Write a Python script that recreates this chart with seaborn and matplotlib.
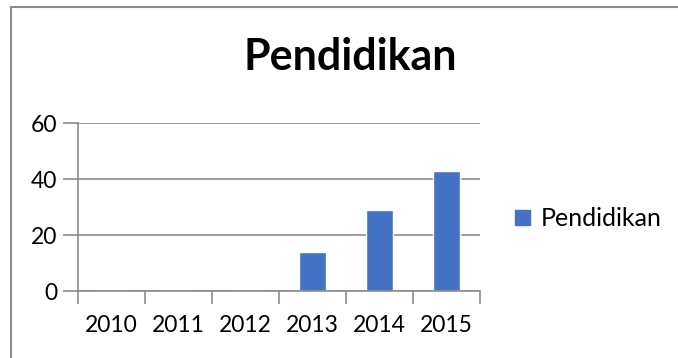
import pandas as pd
import matplotlib.pyplot as plt
import seaborn as sns
from matplotlib.lines import Line2D

# data
years = ["2010", "2011", "2012", "2013", "2014", "2015"]
values = [0, 0, 0, 14, 29, 43]
series = "Pendidikan"

df = pd.DataFrame({"tahun": years, "nilai": values, "seri": series})

sns.set_style("white")
plt.rcParams['font.family'] = ['Lato', 'DejaVu Sans']
plt.rcParams['text.color'] = 'black'
plt.rcParams['xtick.color'] = '#8c8c8c'
plt.rcParams['ytick.color'] = '#8c8c8c'
plt.rcParams['xtick.labelcolor'] = 'black'
plt.rcParams['ytick.labelcolor'] = 'black'

fig = plt.figure(figsize=(6.78, 3.58), dpi=100)
ax = fig.add_axes([0.115, 0.187, 0.593, 0.469])

sns.barplot(data=df, x="tahun", y="nilai", hue="seri", palette=["#4472C4"],
            width=0.4, ax=ax, legend=False, saturation=1)

ax.set_ylim(0, 60)
ax.set_yticks([0, 20, 40, 60])
ax.set_xlim(-0.5, 5.5)
ax.set_xlabel("")
ax.set_ylabel("")
ax.yaxis.grid(True, color="#8c8c8c", linewidth=1.2)
ax.set_axisbelow(True)

for s in ["top", "right"]:
    ax.spines[s].set_visible(False)
for s in ["left", "bottom"]:
    ax.spines[s].set_color("#8c8c8c")
    ax.spines[s].set_linewidth(1.2)

ax.tick_params(axis="y", left=True, length=11, width=1.2, labelsize=16.5, pad=4)
ax.tick_params(axis="x", which="major", bottom=False, length=0, labelsize=16.5, pad=17)
ax.set_xticks([i - 0.5 for i in range(7)], minor=True)
ax.tick_params(axis="x", which="minor", bottom=True, length=9, width=1.2)

handle = plt.Rectangle((0, 0), 1, 1, color="#4472C4")
ax.legend([handle], [series], loc="center left", bbox_to_anchor=(1.03, 0.43),
          frameon=False, fontsize=18, handlelength=0.6, handleheight=0.6,
          handletextpad=0.45)

fig.text(0.516, 0.84, "Pendidikan", ha="center", va="center",
         fontsize=31, fontweight="bold")

# chart border (only top and left visible in the reference)
fig.add_artist(Line2D([0.016, 1.0], [0.98, 0.98], color="#8c8c8c", lw=1.5))
fig.add_artist(Line2D([0.016, 0.016], [0.0, 0.98], color="#8c8c8c", lw=1.5))

fig.savefig("out.png", dpi=100)
